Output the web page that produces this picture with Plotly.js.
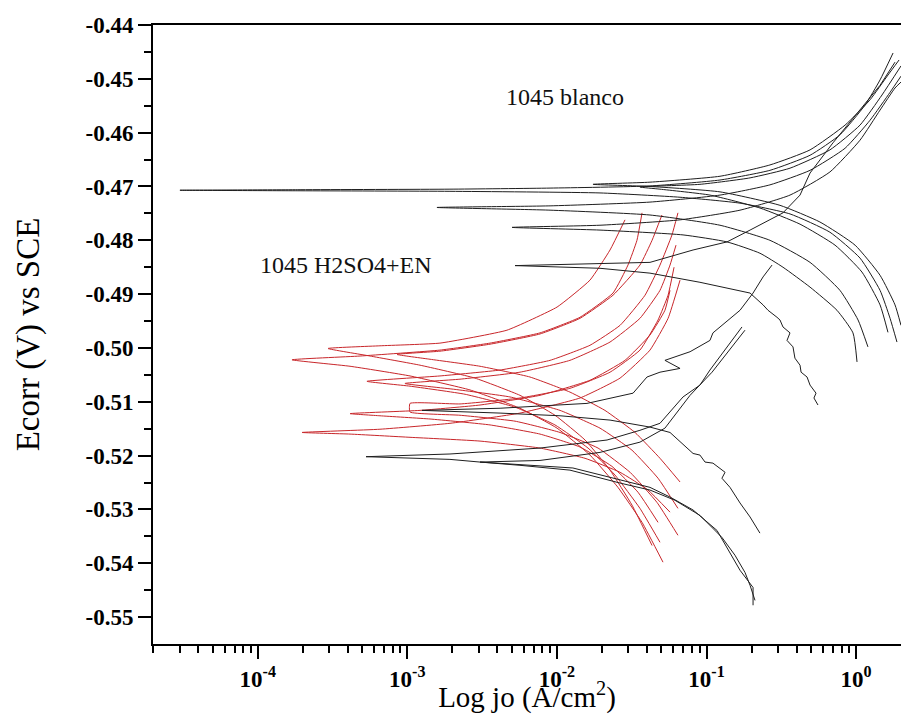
<!DOCTYPE html>
<html>
<head>
<meta charset="utf-8">
<script src="https://cdn.plot.ly/plotly-3.0.1.min.js"></script>
<style>html,body{margin:0;padding:0;background:#fff;}#chart{width:901px;height:714px;}</style>
</head>
<body>
<div id="chart"></div>
<script>
// ---- Data: log10(jo) and Ecorr (V vs SCE) ----
// 1045 blanco (black curves): cathodic end -> Ecorr spike -> anodic end
const b1_logj = [0.273, 0.227, 0.160, 0.026, -0.175, -0.442, -0.776, -1.177, -1.712, -2.715, -3.717, -4.520, -3.717, -2.715, -2.046, -1.378, -0.910, -0.576, -0.308, -0.108, 0.059, 0.160, 0.247];
const b1_E    = [-0.4989, -0.4945, -0.4893, -0.4833, -0.4785, -0.4751, -0.4731, -0.4720, -0.4712, -0.4709, -0.4708, -0.4707, -0.4706, -0.4705, -0.4703, -0.4699, -0.4688, -0.4670, -0.4642, -0.4604, -0.4549, -0.4502, -0.4452];

const b2_logj = [0.300, 0.260, 0.160, -0.007, -0.242, -0.509, -0.910, -1.378, -1.759, -1.378, -0.910, -0.576, -0.308, -0.074, 0.093, 0.213, 0.287];
const b2_E    = [-0.4958, -0.4920, -0.4865, -0.4809, -0.4766, -0.4735, -0.4710, -0.4700, -0.4696, -0.4692, -0.4681, -0.4660, -0.4632, -0.4586, -0.4539, -0.4493, -0.4465];

const b3_logj = [0.213, 0.160, 0.039, -0.141, -0.375, -0.643, -0.977, -1.311, -1.445, -1.044, -0.709, -0.442, -0.175, 0.026, 0.173, 0.300];
const b3_E    = [-0.4971, -0.4920, -0.4859, -0.4809, -0.4770, -0.4740, -0.4716, -0.4705, -0.4701, -0.4696, -0.4684, -0.4666, -0.4632, -0.4586, -0.4530, -0.4476];

const b4_logj = [0.079, 0.013, -0.108, -0.308, -0.576, -0.910, -1.378, -2.046, -2.802, -2.046, -1.378, -0.910, -0.576, -0.308, -0.074, 0.093, 0.227, 0.300];
const b4_E    = [-0.4998, -0.4948, -0.4893, -0.4841, -0.4800, -0.4772, -0.4753, -0.4744, -0.4739, -0.4736, -0.4729, -0.4716, -0.4697, -0.4670, -0.4629, -0.4577, -0.4525, -0.4495];

const b5_logj = [0.006, -0.021, -0.128, -0.308, -0.489, -0.643, -0.863, -1.157, -1.712, -2.300, -1.712, -1.177, -0.776, -0.442, -0.175, 0.026, 0.160, 0.260, 0.300];
const b5_E    = [-0.5026, -0.4972, -0.4930, -0.4887, -0.4850, -0.4824, -0.4803, -0.4790, -0.4781, -0.4776, -0.4772, -0.4762, -0.4744, -0.4716, -0.4673, -0.4614, -0.4558, -0.4517, -0.4506];

const b6_logj = [-0.255, -0.282, -0.268, -0.308, -0.328, -0.368, -0.375, -0.409, -0.422, -0.462, -0.442, -0.489, -0.509, -0.529, -0.589, -0.622, -0.709, -1.044, -1.378, -1.712, -2.280,
                 -1.712, -1.378, -1.090, -0.863, -0.709, -0.489, -0.375, -0.308, -0.155, 0.026, 0.160, 0.260];
const b6_E    = [-0.5106, -0.5093, -0.5084, -0.5069, -0.5054, -0.5045, -0.5032, -0.5019, -0.4998, -0.4986, -0.4972, -0.4961, -0.4948, -0.4943, -0.4930, -0.4920, -0.4898, -0.4878, -0.4861, -0.4852, -0.4847,
                 -0.4844, -0.4841, -0.4818, -0.4803, -0.4781, -0.4749, -0.4716, -0.4675, -0.4619, -0.4558, -0.4512, -0.4469];

const b7_logj = [-0.643, -0.709, -0.776, -0.843, -0.897, -0.876, -0.957, -1.010, -1.044, -1.090, -1.244, -1.378, -1.645, -1.979, -2.380, -2.902,
                 -2.380, -1.799, -1.491, -1.398, -1.311, -1.177, -1.278, -1.110, -0.977, -0.957, -0.776, -0.689, -0.622, -0.562];
const b7_E    = [-0.5344, -0.5314, -0.5288, -0.5259, -0.5242, -0.5231, -0.5214, -0.5212, -0.5199, -0.5196, -0.5157, -0.5147, -0.5134, -0.5126, -0.5121, -0.5116,
                 -0.5112, -0.5103, -0.5084, -0.5054, -0.5045, -0.5038, -0.5023, -0.5007, -0.4986, -0.4972, -0.4930, -0.4898, -0.4868, -0.4846];

const b8_logj = [-0.689, -0.689, -0.776, -0.863, -0.930, -1.090, -1.244, -1.378, -1.558, -1.893, -2.514, -2.715, -3.276,
                 -2.715, -2.113, -1.665, -1.445, -1.311, -1.157, -1.044, -0.977, -0.876, -0.763];
const b8_E    = [-0.5478, -0.5445, -0.5413, -0.5370, -0.5339, -0.5301, -0.5277, -0.5259, -0.5246, -0.5223, -0.5212, -0.5207, -0.5202,
                 -0.5197, -0.5186, -0.5171, -0.5153, -0.5140, -0.5091, -0.5069, -0.5041, -0.5004, -0.4961];

const b9_logj = [-0.676, -0.709, -0.743, -0.810, -0.897, -1.044, -1.211, -1.378, -1.578, -1.913, -2.247, -2.514, -2.113, -1.712, -1.445, -1.278, -1.110, -0.963, -0.743];
const b9_E    = [-0.5469, -0.5441, -0.5417, -0.5385, -0.5352, -0.5311, -0.5283, -0.5264, -0.5251, -0.5227, -0.5218, -0.5212, -0.5209, -0.5194, -0.5175, -0.5149, -0.5088, -0.5045, -0.4967];

// 1045 H2SO4+EN (red curves)
const r1_logj = [-1.364, -1.498, -1.645, -1.812, -2.013, -2.247, -2.548, -2.915, -3.249, -3.530, -3.183, -2.782, -2.334, -1.999, -1.779, -1.645, -1.545];
const r1_E    = [-0.5367, -0.5292, -0.5227, -0.5171, -0.5125, -0.5088, -0.5056, -0.5032, -0.5015, -0.5001, -0.4996, -0.4991, -0.4967, -0.4924, -0.4874, -0.4818, -0.4762];

const r2_logj = [-1.291, -1.431, -1.592, -1.779, -1.999, -2.247, -2.581, -2.982, -3.383, -3.771, -3.316, -2.782, -2.447, -2.113, -1.846, -1.625, -1.525, -1.465, -1.431];
const r2_E    = [-0.5398, -0.5324, -0.5259, -0.5199, -0.5149, -0.5112, -0.5078, -0.5052, -0.5034, -0.5022, -0.5015, -0.5004, -0.4991, -0.4972, -0.4943, -0.4898, -0.4846, -0.4800, -0.4749];

const r3_logj = [-1.177, -1.311, -1.478, -1.679, -1.913, -2.180, -2.514, -2.848, -3.069, -2.782, -2.447, -2.113, -1.846, -1.625, -1.445, -1.364, -1.298];
const r3_E    = [-0.5249, -0.5205, -0.5157, -0.5116, -0.5082, -0.5054, -0.5034, -0.5021, -0.5012, -0.5006, -0.4993, -0.4974, -0.4945, -0.4902, -0.4846, -0.4800, -0.4753];

const r4_logj = [-1.311, -1.445, -1.612, -1.792, -2.013, -2.280, -2.614, -2.982, -3.270, -2.782, -2.380, -2.046, -1.779, -1.578, -1.411, -1.311, -1.231, -1.191];
const r4_E    = [-0.5361, -0.5298, -0.5236, -0.5186, -0.5143, -0.5110, -0.5086, -0.5071, -0.5062, -0.5052, -0.5041, -0.5023, -0.4995, -0.4958, -0.4902, -0.4846, -0.4790, -0.4749];

const r5_logj = [-1.191, -1.324, -1.498, -1.712, -1.979, -2.314, -2.681, -3.016, -2.648, -2.247, -1.913, -1.645, -1.445, -1.311, -1.244, -1.204];
const r5_E    = [-0.5298, -0.5242, -0.5190, -0.5149, -0.5116, -0.5091, -0.5077, -0.5066, -0.5058, -0.5045, -0.5023, -0.4989, -0.4945, -0.4893, -0.4846, -0.4809];

const r6_logj = [-1.191, -1.331, -1.511, -1.725, -1.979, -2.280, -2.648, -2.982, -2.982, -2.648, -2.247, -1.913, -1.645, -1.445, -1.324, -1.257, -1.217];
const r6_E    = [-0.5348, -0.5287, -0.5231, -0.5186, -0.5157, -0.5136, -0.5125, -0.5119, -0.5103, -0.5104, -0.5093, -0.5075, -0.5045, -0.5004, -0.4948, -0.4902, -0.4850];

const r7_logj = [-1.324, -1.458, -1.632, -1.846, -2.113, -2.447, -2.848, -3.183, -3.383, -2.915, -2.514, -2.113, -1.779, -1.545, -1.378, -1.278, -1.244];
const r7_E    = [-0.5324, -0.5268, -0.5220, -0.5184, -0.5160, -0.5143, -0.5132, -0.5126, -0.5122, -0.5116, -0.5106, -0.5088, -0.5060, -0.5023, -0.4976, -0.4930, -0.4893];

const r8_logj = [-1.244, -1.391, -1.578, -1.812, -2.113, -2.514, -2.982, -3.383, -3.704, -3.183, -2.715, -2.247, -1.846, -1.578, -1.378, -1.257, -1.177];
const r8_E    = [-0.5305, -0.5264, -0.5231, -0.5205, -0.5186, -0.5173, -0.5166, -0.5160, -0.5157, -0.5151, -0.5140, -0.5121, -0.5093, -0.5056, -0.5004, -0.4945, -0.4874];

// Tick labels
const xTickVals = [1e-4, 1e-3, 1e-2, 1e-1, 1];
const xTickText = ['10<sup>-4</sup>', '10<sup>-3</sup>', '10<sup>-2</sup>', '10<sup>-1</sup>', '10<sup>0</sup>'];
const yTickVals = [-0.44, -0.45, -0.46, -0.47, -0.48, -0.49, -0.50, -0.51, -0.52, -0.53, -0.54, -0.55];
const yTickText = ['-0.44', '-0.45', '-0.46', '-0.47', '-0.48', '-0.49', '-0.50', '-0.51', '-0.52', '-0.53', '-0.54', '-0.55'];

const blackSets = [[b1_logj,b1_E,true],[b2_logj,b2_E,true],[b3_logj,b3_E,true],[b4_logj,b4_E,true],[b5_logj,b5_E,true],
                   [b6_logj,b6_E,false],[b7_logj,b7_E,false],[b8_logj,b8_E,false],[b9_logj,b9_E,false]];
const redSets = [[r1_logj,r1_E],[r2_logj,r2_E],[r3_logj,r3_E],[r4_logj,r4_E],[r5_logj,r5_E],[r6_logj,r6_E],[r7_logj,r7_E],[r8_logj,r8_E]];

const toJ = a => a.map(v => Math.pow(10, v));
const traces = [];
redSets.forEach(s => traces.push({x: toJ(s[0]), y: s[1], mode: 'lines', type: 'scatter',
  line: {color: '#c8262a', width: 1, shape: 'spline', smoothing: 0.4}, hoverinfo: 'skip'}));
blackSets.forEach(s => traces.push({x: toJ(s[0]), y: s[1], mode: 'lines', type: 'scatter',
  line: {color: '#1e1e1e', width: 1, shape: s[2] ? 'spline' : 'linear', smoothing: 0.5}, hoverinfo: 'skip'}));

// minor tick positions (axis decoration)
const xMinor = [];
for (let d = -5; d <= 0; d++) for (let k = 2; k <= 9; k++) { const v = k * Math.pow(10, d); if (v >= 2e-5 && v <= 2.0) xMinor.push(v); }
const yMinor = [];
for (let i = 0; i < 11; i++) yMinor.push(-0.445 - 0.01 * i);

const serif = 'Liberation Serif';
const layout = {
  width: 901, height: 714,
  margin: {l: 153, r: 0, t: 25, b: 70},
  paper_bgcolor: '#ffffff', plot_bgcolor: '#ffffff',
  showlegend: false,
  xaxis: {
    type: 'log', range: [-4.7, 0.3],
    showline: true, linecolor: '#000', linewidth: 2, mirror: true,
    showgrid: false, zeroline: false,
    ticks: 'outside', ticklen: 13, tickwidth: 2, tickcolor: '#000',
    tickmode: 'array', tickvals: xTickVals, ticktext: xTickText,
    tickfont: {family: serif, size: 23, color: '#000', weight: 'bold'},
    minor: {tickmode: 'array', tickvals: xMinor, ticks: 'outside', ticklen: 7, tickwidth: 2, tickcolor: '#000', showgrid: false},
    title: {text: 'Log jo (A/cm<sup>2</sup>)', font: {family: serif, size: 29, color: '#000'}, standoff: 0},
    automargin: false
  },
  yaxis: {
    range: [-0.555, -0.44],
    showline: true, linecolor: '#000', linewidth: 2, mirror: false,
    showgrid: false, zeroline: false,
    ticks: 'outside', ticklen: 13, tickwidth: 2, tickcolor: '#000',
    tickmode: 'array', tickvals: yTickVals, ticktext: yTickText,
    tickfont: {family: serif, size: 23, color: '#000', weight: 'bold'},
    minor: {tickmode: 'array', tickvals: yMinor, ticks: 'outside', ticklen: 7, tickwidth: 2, tickcolor: '#000', showgrid: false},
    title: {text: 'Ecorr (V) vs SCE', font: {family: serif, size: 33, color: '#000'}, standoff: 36},
    automargin: false
  },
  annotations: [
    {text: '1045 blanco', xref: 'paper', yref: 'paper', x: 0.551, y: 0.884, xanchor: 'center', yanchor: 'middle', showarrow: false,
     font: {family: serif, size: 24, color: '#111'}},
    {text: '1045 H2SO4+EN', xref: 'paper', yref: 'paper', x: 0.258, y: 0.612, xanchor: 'center', yanchor: 'middle', showarrow: false,
     font: {family: serif, size: 24, color: '#111'}}
  ]
};
Plotly.newPlot('chart', traces, layout, {displayModeBar: false, staticPlot: true});
</script>
</body>
</html>
